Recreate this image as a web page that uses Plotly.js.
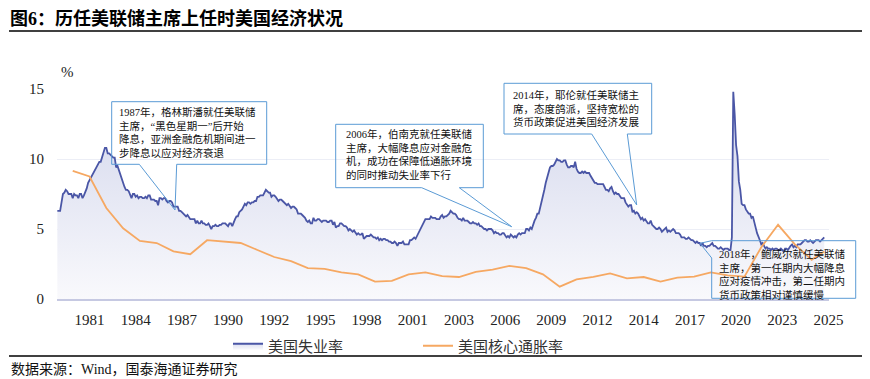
<!DOCTYPE html>
<html><head><meta charset="utf-8">
<script src="https://cdn.plot.ly/plotly-3.0.1.min.js"></script>
<style>html,body{margin:0;padding:0;background:#fff;}#chart{width:870px;height:379px;}</style>
</head><body><div id="chart"></div>
<script>
// ---- data ----
const seriesNames = ['美国失业率', '美国核心通胀率'];
const unemploymentStartYear = 1980; // monthly, from Jan 1980
const unemploymentRate = [
6.3,6.3,6.3,6.9,7.5,7.6,7.8,7.7,7.5,7.5,7.5,7.2,
7.5,7.4,7.4,7.2,7.5,7.5,7.2,7.4,7.6,7.9,8.3,8.5,
8.6,8.9,9.0,9.3,9.4,9.6,9.8,9.8,10.1,10.4,10.8,10.8,
10.4,10.4,10.3,10.2,10.1,10.1,9.4,9.5,9.2,8.8,8.5,8.3,
8.0,7.8,7.8,7.7,7.4,7.2,7.5,7.5,7.3,7.4,7.2,7.3,
7.3,7.2,7.2,7.3,7.2,7.4,7.4,7.1,7.1,7.1,7.0,7.0,
6.7,7.2,7.2,7.1,7.2,7.2,7.0,6.9,7.0,7.0,6.9,6.6,
6.6,6.6,6.6,6.3,6.3,6.2,6.1,6.0,5.9,6.0,5.8,5.7,
5.7,5.7,5.7,5.4,5.6,5.4,5.4,5.6,5.4,5.4,5.3,5.3,
5.4,5.2,5.0,5.2,5.2,5.3,5.2,5.2,5.3,5.3,5.4,5.4,
5.4,5.3,5.2,5.4,5.4,5.2,5.5,5.7,5.9,5.9,6.2,6.3,
6.4,6.6,6.8,6.7,6.9,6.9,6.8,6.9,6.9,7.0,7.0,7.3,
7.3,7.4,7.4,7.4,7.6,7.8,7.7,7.6,7.6,7.3,7.4,7.4,
7.3,7.1,7.0,7.1,7.1,7.0,6.9,6.8,6.7,6.8,6.6,6.5,
6.6,6.6,6.5,6.4,6.1,6.1,6.1,6.0,5.9,5.8,5.6,5.5,
5.6,5.4,5.4,5.8,5.6,5.6,5.7,5.7,5.6,5.5,5.6,5.6,
5.6,5.5,5.5,5.6,5.6,5.3,5.5,5.1,5.2,5.2,5.4,5.4,
5.3,5.2,5.2,5.1,4.9,5.0,4.9,4.8,4.9,4.7,4.6,4.7,
4.6,4.6,4.7,4.3,4.4,4.5,4.5,4.5,4.6,4.5,4.4,4.4,
4.3,4.4,4.2,4.3,4.2,4.3,4.3,4.2,4.2,4.1,4.1,4.0,
4.0,4.1,4.0,3.8,4.0,4.0,4.0,4.1,3.9,3.9,3.9,3.9,
4.2,4.2,4.3,4.4,4.3,4.5,4.6,4.9,5.0,5.3,5.5,5.7,
5.7,5.7,5.7,5.9,5.8,5.8,5.8,5.7,5.7,5.7,5.9,6.0,
5.8,5.9,5.9,6.0,6.1,6.3,6.2,6.1,6.1,6.0,5.8,5.7,
5.7,5.6,5.8,5.6,5.6,5.6,5.5,5.4,5.4,5.5,5.4,5.4,
5.3,5.4,5.2,5.2,5.1,5.0,5.0,4.9,5.0,5.0,5.0,4.9,
4.7,4.8,4.7,4.7,4.6,4.6,4.7,4.7,4.5,4.4,4.5,4.4,
4.6,4.5,4.4,4.5,4.4,4.6,4.7,4.6,4.7,4.7,4.7,5.0,
5.0,4.9,5.1,5.0,5.4,5.6,5.8,6.1,6.1,6.5,6.8,7.3,
7.8,8.3,8.7,9.0,9.4,9.5,9.5,9.6,9.8,10.0,9.9,9.9,
9.8,9.8,9.9,9.9,9.6,9.4,9.4,9.5,9.5,9.4,9.8,9.3,
9.1,9.0,9.0,9.1,9.0,9.1,9.0,9.0,9.0,8.8,8.6,8.5,
8.3,8.3,8.2,8.2,8.2,8.2,8.2,8.0,7.8,7.8,7.7,7.9,
8.0,7.7,7.5,7.6,7.5,7.5,7.3,7.2,7.2,7.2,6.9,6.7,
6.6,6.7,6.7,6.2,6.3,6.1,6.2,6.1,5.9,5.7,5.8,5.6,
5.7,5.5,5.4,5.4,5.6,5.3,5.2,5.1,5.0,5.0,5.1,5.0,
4.8,4.9,5.0,5.1,4.8,4.9,4.8,4.9,5.0,4.9,4.7,4.7,
4.7,4.6,4.4,4.4,4.4,4.3,4.3,4.4,4.3,4.2,4.2,4.1,
4.0,4.1,4.0,4.0,3.8,4.0,3.8,3.8,3.7,3.8,3.8,3.9,
4.0,3.8,3.8,3.7,3.6,3.6,3.7,3.6,3.5,3.6,3.6,3.6,
3.5,3.5,4.4,14.8,13.2,11.0,10.2,8.4,7.8,6.8,6.7,6.7,
6.4,6.2,6.1,6.1,5.8,5.9,5.4,5.1,4.7,4.5,4.2,3.9,
4.0,3.8,3.6,3.7,3.6,3.6,3.5,3.6,3.5,3.6,3.6,3.5,
3.5,3.6,3.5,3.4,3.6,3.6,3.5,3.7,3.8,3.9,3.7,3.8,
3.7,3.9,3.9,3.9,4.0,4.1,4.2,4.2,4.1,4.1,4.2,4.1,
4.0,4.1,4.2,4.2,4.2,4.1,4.2,4.3,4.4
];
const coreMonths = ['1980-12','1981-12','1982-12','1983-12','1984-12','1985-12','1986-12','1987-12','1988-12','1989-12',
'1990-12','1991-12','1992-12','1993-12','1994-12','1995-12','1996-12','1997-12','1998-12','1999-12',
'2000-12','2001-12','2002-12','2003-12','2004-12','2005-12','2006-12','2007-12','2008-12','2009-12',
'2010-12','2011-12','2012-12','2013-12','2014-12','2015-12','2016-12','2017-12','2018-12','2019-12',
'2020-12','2021-12','2022-12','2023-12','2024-12','2025-09'];
const coreInflation = [9.15,8.75,6.5,5.05,4.15,4.0,3.4,3.2,4.2,4.1,
4.0,3.5,3.0,2.7,2.2,2.15,1.9,1.76,1.24,1.3,
1.76,1.9,1.64,1.57,1.93,2.1,2.36,2.2,1.76,0.88,
1.4,1.58,1.83,1.48,1.57,1.24,1.52,1.6,1.9,1.68,
1.6,3.7,5.3,3.9,2.8,3.4];
const tickMonths = ['1981-12','1984-09','1987-06','1990-03','1992-12','1995-09','1998-06','2001-03','2003-12',
'2006-09','2009-06','2012-03','2014-12','2017-09','2020-06','2023-03','2025-12'];
const tickLabels = ['1981','1984','1987','1990','1992','1995','1998','2001','2003','2006','2009','2012','2014','2017','2020','2023','2025'];
const yTicks = [0, 5, 10, 15];
const titleText = '图6：历任美联储主席上任时美国经济状况';
const sourceText = '数据来源：Wind，国泰海通证券研究';
const notes = [
  '1987年，格林斯潘就任美联储<br>主席，“黑色星期一”后开始<br>降息，亚洲金融危机期间进一<br>步降息以应对经济衰退',
  '2006年，伯南克就任美联储<br>主席，大幅降息应对金融危<br>机，成功在保障低通胀环境<br>的同时推动失业率下行',
  '2014年，耶伦就任美联储主<br>席，态度鸽派，坚持宽松的<br>货币政策促进美国经济发展',
  '2018年，鲍威尔就任美联储<br>主席，第一任期内大幅降息<br>应对疫情冲击，第二任期内<br>货币政策相对谨慎缓慢'
];

// ---- helpers ----
const ym = s => { const [y, m] = s.split('-').map(Number); return y + (m - 1) / 12; };
const unempX = unemploymentRate.map((_, i) => unemploymentStartYear + i / 12);
const coreX = coreMonths.map(ym);
const tickVals = tickMonths.map(ym);

const W = 870, H = 379;
const PL = 57, PR = 829, PT = 89, PB = 299;
const px = x => (x - PL) / (PR - PL);
const py = y => (PB - y) / (PB - PT);
const P = (x, y) => px(x).toFixed(5) + ',' + py(y).toFixed(5);

const serif = 'Liberation Serif, Noto Sans CJK SC, serif';
const boxColor = '#5b9bd5';

function calloutBottom(L, T, R, B, bl, br, tx, ty) {
  return 'M' + P(L, T) + ' L' + P(R, T) + ' L' + P(R, B) + ' L' + P(br, B) + ' L' + P(tx, ty) +
         ' L' + P(bl, B) + ' L' + P(L, B) + ' Z';
}
function calloutLeft(L, T, R, B, b1, b2, tx, ty) {
  return 'M' + P(L, T) + ' L' + P(R, T) + ' L' + P(R, B) + ' L' + P(L, B) + ' L' + P(L, b2) +
         ' L' + P(tx, ty) + ' L' + P(L, b1) + ' Z';
}

const boxPaths = [
  calloutBottom(111.7, 101.7, 266.7, 164.3, 139.3, 176.7, 175, 210),
  calloutBottom(335.7, 124.3, 483.3, 187.7, 421.7, 459.3, 511.7, 226.7),
  calloutBottom(504, 83.3, 651.7, 134, 591.7, 627.3, 636.7, 205),
  calloutLeft(711.7, 240.7, 855.7, 298.3, 240.7, 258, 700, 243.3)
];
const notePos = [[118, 105], [345, 126.5], [511.7, 88], [718.3, 246.5]];

const shapes = boxPaths.map(p => ({
  type: 'path', xref: 'paper', yref: 'paper', path: p,
  line: { color: boxColor, width: 1 }, fillcolor: 'rgba(0,0,0,0)'
}));
shapes.push({ type: 'line', xref: 'paper', yref: 'paper', x0: px(9), x1: px(862), y0: py(31), y1: py(31), line: { color: '#000', width: 1.5 } });
shapes.push({ type: 'line', xref: 'paper', yref: 'paper', x0: px(9), x1: px(862), y0: py(356), y1: py(356), line: { color: '#000', width: 1.5 } });

const annotations = notes.map((t, i) => ({
  xref: 'paper', yref: 'paper', x: px(notePos[i][0]), y: py(notePos[i][1]),
  xanchor: 'left', yanchor: 'top', align: 'left', showarrow: false, text: t,
  font: { family: serif, size: 10.5, color: '#111' }, borderpad: 0
}));
annotations.push({ xref: 'paper', yref: 'paper', x: px(67.5), y: py(72), xanchor: 'center', yanchor: 'middle',
  showarrow: false, text: '%', font: { family: serif, size: 15, color: '#222' } });
annotations.push({ xref: 'paper', yref: 'paper', x: px(9), y: py(369), xanchor: 'left', yanchor: 'middle',
  showarrow: false, text: sourceText, font: { family: serif, size: 14, color: '#111' } });

const traces = [
  {
    x: unempX, y: unemploymentRate, name: seriesNames[0], type: 'scatter', mode: 'lines',
    line: { color: '#4a56a6', width: 1.8 },
    fill: 'tozeroy',
    fillgradient: { type: 'vertical', start: 0, stop: 11, colorscale: [[0, '#f9f9fc'], [1, '#dcdff0']] }
  },
  {
    x: coreX, y: coreInflation, name: seriesNames[1], type: 'scatter', mode: 'lines',
    line: { color: '#f6a862', width: 1.8 }
  }
];

const layout = {
  width: W, height: H,
  margin: { l: PL, r: W - PR, t: PT, b: H - PB, pad: 0 },
  paper_bgcolor: '#fff', plot_bgcolor: '#fff',
  title: { text: '<b>' + titleText + '</b>', xref: 'container', yref: 'container', x: 10 / W, xanchor: 'left',
           y: 1 - 18.5 / H, yanchor: 'middle', font: { family: serif, size: 18, color: '#000' } },
  xaxis: {
    range: [1979.98, 2025.95], showgrid: false, zeroline: false,
    tickmode: 'array', tickvals: tickVals, ticktext: tickLabels, ticks: '',
    showline: true, linecolor: '#c6c9e2', linewidth: 2,
    tickfont: { family: serif, size: 15, color: '#222' }, ticklabelstandoff: 6
  },
  yaxis: {
    range: [0, 15], tickmode: 'array', tickvals: yTicks, ticks: '',
    showgrid: true, gridcolor: '#eceef6', gridwidth: 1, zeroline: false, showline: false,
    tickfont: { family: serif, size: 15, color: '#222' }, ticklabelstandoff: 12
  },
  showlegend: true,
  legend: {
    orientation: 'h', x: px(228), xanchor: 'left', y: py(346), yanchor: 'middle',
    font: { family: 'Noto Sans CJK SC, sans-serif', size: 15, color: '#333' },
    entrywidth: 145, entrywidthmode: 'pixels', itemwidth: 30, bgcolor: 'rgba(0,0,0,0)',
    traceorder: 'normal'
  },
  shapes: shapes,
  annotations: annotations
};

Plotly.newPlot('chart', traces, layout, { displayModeBar: false, staticPlot: true });
</script></body></html>
